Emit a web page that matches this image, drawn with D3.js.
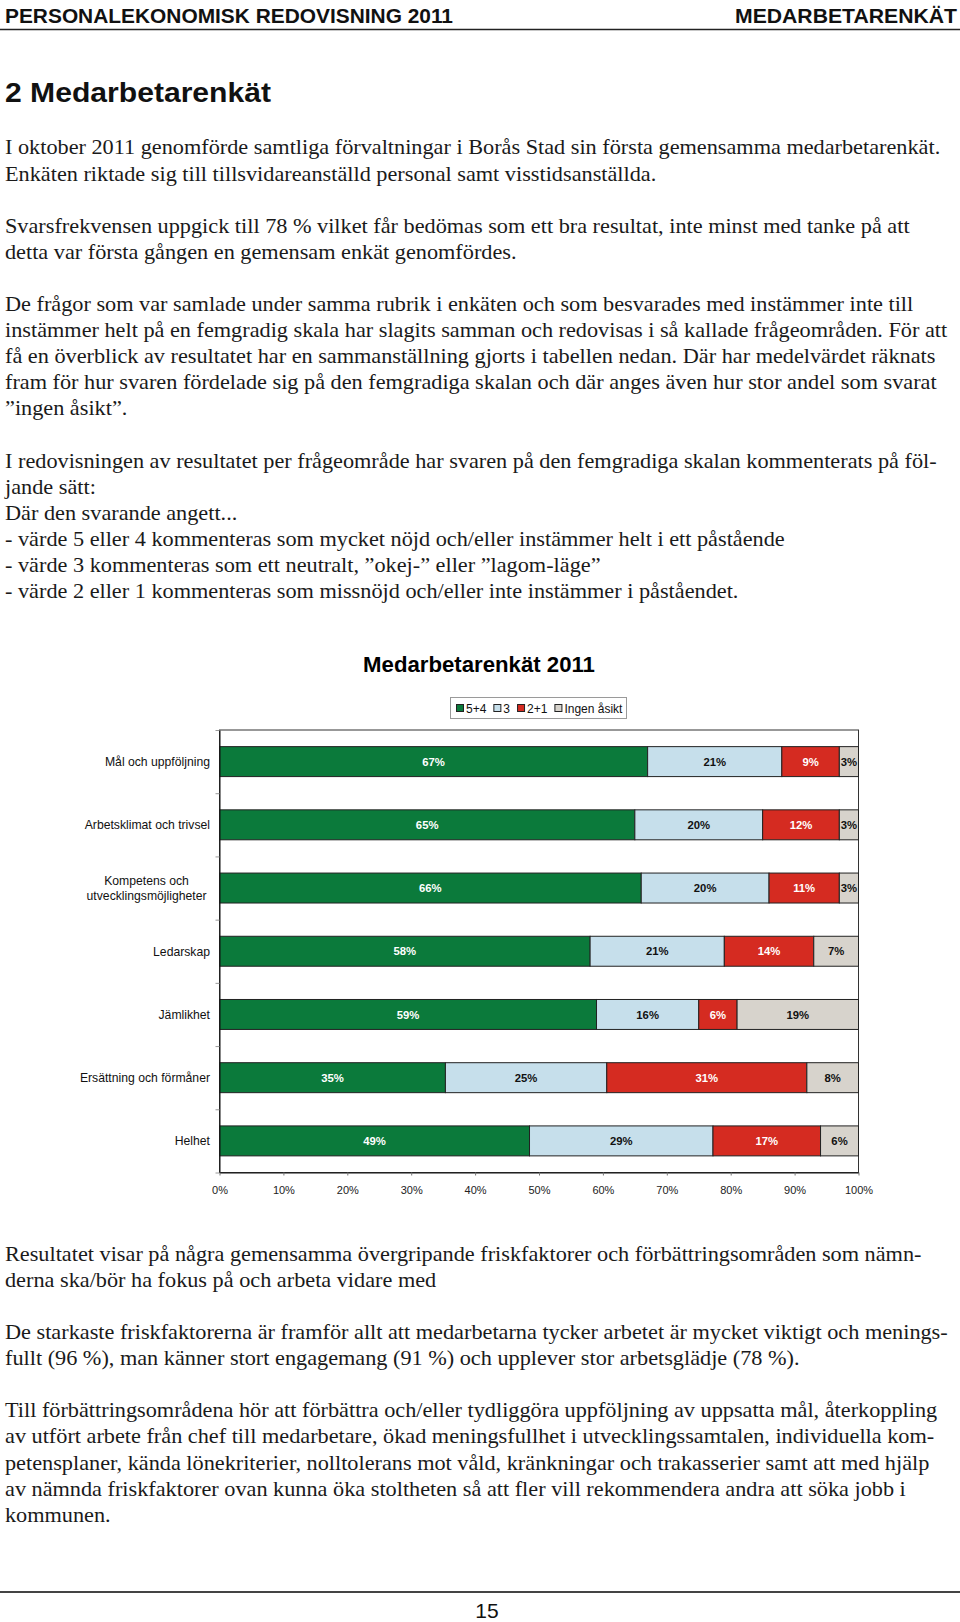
<!DOCTYPE html>
<html>
<head>
<meta charset="utf-8">
<script src="https://cdn.jsdelivr.net/npm/d3@7"></script>
<style>
  html, body { margin: 0; padding: 0; background: #fff; }
  svg { display: block; }
</style>
</head>
<body>
<svg id="page" width="960" height="1622"></svg>
<script>
// ---------------- DATA ----------------
const categories = [
  "Mål och uppföljning",
  "Arbetsklimat och trivsel",
  "Kompetens och\nutvecklingsmöjligheter",
  "Ledarskap",
  "Jämlikhet",
  "Ersättning och förmåner",
  "Helhet"
];
const seriesKeys = ["5+4", "3", "2+1", "Ingen åsikt"];
const values54   = [67, 65, 66, 58, 59, 35, 49];
const values3    = [21, 20, 20, 21, 16, 25, 29];
const values21   = [9, 12, 11, 14, 6, 31, 17];
const valuesNone = [3, 3, 3, 7, 19, 8, 6];
const xTicks = [0, 0.1, 0.2, 0.3, 0.4, 0.5, 0.6, 0.7, 0.8, 0.9, 1];

const chartTitle = "Medarbetarenkät 2011";
const headerLeft = "PERSONALEKONOMISK REDOVISNING 2011";
const headerRight = "MEDARBETARENKÄT";
const sectionTitle = "2  Medarbetarenkät";
const pageNumber = "15";

const introLines = [
  "I oktober 2011 genomförde samtliga förvaltningar i Borås Stad sin första gemensamma medarbetarenkät.",
  "Enkäten riktade sig till tillsvidareanställd personal samt visstidsanställda.",
  "",
  "Svarsfrekvensen uppgick till 78 % vilket får bedömas som ett bra resultat, inte minst med tanke på att",
  "detta var första gången en gemensam enkät genomfördes.",
  "",
  "De frågor som var samlade under samma rubrik i enkäten och som besvarades med instämmer inte till",
  "instämmer helt på en femgradig skala har slagits samman och redovisas i så kallade frågeområden. För att",
  "få en överblick av resultatet har en sammanställning gjorts i tabellen nedan. Där har medelvärdet räknats",
  "fram för hur svaren fördelade sig på den femgradiga skalan och där anges även hur stor andel som svarat",
  "\u201Dingen åsikt\u201D.",
  "",
  "I redovisningen av resultatet per frågeområde har svaren på den femgradiga skalan kommenterats på föl-",
  "jande sätt:",
  "Där den svarande angett...",
  "- värde 5 eller 4 kommenteras som mycket nöjd och/eller instämmer helt i ett påstående",
  "- värde 3 kommenteras som ett neutralt, \u201Dokej-\u201D eller \u201Dlagom-läge\u201D",
  "- värde 2 eller 1 kommenteras som missnöjd och/eller inte instämmer i påståendet."
];
const outroLines = [
  "Resultatet visar på några gemensamma övergripande friskfaktorer och förbättringsområden som nämn-",
  "derna ska/bör ha fokus på och arbeta vidare med",
  "",
  "De starkaste friskfaktorerna är framför allt att medarbetarna tycker arbetet är mycket viktigt och menings-",
  "fullt (96 %), man känner stort engagemang (91 %) och upplever stor arbetsglädje (78 %).",
  "",
  "Till förbättringsområdena hör att förbättra och/eller tydliggöra uppföljning av uppsatta mål, återkoppling",
  "av utfört arbete från chef till medarbetare, ökad meningsfullhet i utvecklingssamtalen, individuella kom-",
  "petensplaner, kända lönekriterier, nolltolerans mot våld, kränkningar och trakasserier samt att med hjälp",
  "av nämnda friskfaktorer ovan kunna öka stoltheten så att fler vill rekommendera andra att söka jobb i",
  "kommunen."
];

// ---------------- STYLE ----------------
const colors = {"5+4": "#0b7a3b", "3": "#c6dfeb", "2+1": "#d52b21", "Ingen åsikt": "#d7d3cc"};
const labelColors = {"5+4": "#ffffff", "3": "#111111", "2+1": "#ffffff", "Ingen åsikt": "#111111"};
const sans = "'Liberation Sans', Arial, Helvetica, sans-serif";
const serif = "'Liberation Serif', 'Times New Roman', serif";

const svg = d3.select("#page");
svg.append("rect").attr("width", 960).attr("height", 1622).attr("fill", "#fff");

// ---------------- HEADER ----------------
svg.append("text").attr("x", 5).attr("y", 23)
  .attr("font-family", "'Liberation Sans Narrow', " + sans).attr("font-weight", "bold")
  .attr("font-size", 20.5).attr("fill", "#111")
  .attr("textLength", 448).attr("lengthAdjust", "spacingAndGlyphs")
  .text(headerLeft);
svg.append("text").attr("x", 957).attr("y", 23).attr("text-anchor", "end")
  .attr("font-family", "'Liberation Sans Narrow', " + sans).attr("font-weight", "bold")
  .attr("font-size", 20.5).attr("fill", "#111")
  .attr("textLength", 222).attr("lengthAdjust", "spacingAndGlyphs")
  .text(headerRight);
svg.append("line").attr("x1", 0).attr("x2", 960).attr("y1", 29.5).attr("y2", 29.5)
  .attr("stroke", "#222").attr("stroke-width", 1.4);

svg.append("text").attr("x", 5).attr("y", 101.5)
  .attr("font-family", "'Liberation Sans Narrow', " + sans).attr("font-weight", "bold")
  .attr("font-size", 28).attr("fill", "#111")
  .attr("textLength", 266).attr("lengthAdjust", "spacingAndGlyphs")
  .text(sectionTitle);

// ---------------- BODY TEXT ----------------
function drawBlock(lines, y0, step) {
  const g = svg.append("g");
  const inner = g.append("g");
  inner.selectAll("text").data(lines).join("text")
    .attr("x", 0)
    .attr("y", (d, i) => y0 + i * step)
    .attr("font-family", serif).attr("font-size", 21).attr("fill", "#1a1a1a")
    .text(d => d);
  return inner;
}
const introBlock = drawBlock(introLines, 154.5, 26.1);
const outroBlock = drawBlock(outroLines, 1261, 26.07);
// fit horizontal proportion of serif face to the reference line width
const refW = introBlock.select("text").node().getComputedTextLength();
const sx = 936 / refW;
introBlock.attr("transform", `translate(5,0) scale(${sx},1)`);
outroBlock.attr("transform", `translate(5,0) scale(${sx},1)`);

// ---------------- CHART ----------------
svg.append("text").attr("x", 479).attr("y", 672).attr("text-anchor", "middle")
  .attr("font-family", sans).attr("font-weight", "bold").attr("font-size", 22.2)
  .attr("fill", "#000").text(chartTitle);

const rows = categories.map((c, i) => ({
  cat: c, "5+4": values54[i], "3": values3[i], "2+1": values21[i], "Ingen åsikt": valuesNone[i]
}));
const stacked = d3.stack().keys(seriesKeys).offset(d3.stackOffsetExpand)(rows);

const plot = {left: 219.5, right: 858.5, top: 730, bottom: 1172.5};
const x = d3.scaleLinear().domain([0, 1]).range([plot.left, plot.right]);
const y = d3.scaleBand().domain(categories).range([plot.top, plot.bottom])
  .paddingInner(0.526).paddingOuter(0.263);

// plot area border
svg.append("rect").attr("x", plot.left).attr("y", plot.top)
  .attr("width", plot.right - plot.left).attr("height", plot.bottom - plot.top)
  .attr("fill", "none").attr("stroke", "#333").attr("stroke-width", 1);

// segments
const segG = svg.append("g");
stacked.forEach(s => {
  segG.append("g").selectAll("rect").data(s).join("rect")
    .attr("x", d => x(d[0]))
    .attr("y", d => y(d.data.cat))
    .attr("width", d => x(d[1]) - x(d[0]))
    .attr("height", y.bandwidth())
    .attr("fill", colors[s.key])
    .attr("stroke", "#222").attr("stroke-width", 1);
});
// value labels
stacked.forEach(s => {
  segG.append("g").selectAll("text").data(s).join("text")
    .attr("x", d => (x(d[0]) + x(d[1])) / 2)
    .attr("y", d => y(d.data.cat) + y.bandwidth() / 2)
    .attr("dy", "0.36em")
    .attr("text-anchor", "middle")
    .attr("font-family", sans).attr("font-weight", "bold").attr("font-size", 11.3)
    .attr("fill", labelColors[s.key])
    .text(d => d.data[s.key] + "%");
});

// left axis ticks at category boundaries
const boundary = d3.scaleLinear().domain([0, categories.length]).range([plot.top, plot.bottom]);
const yAxis = svg.append("g").attr("transform", `translate(${plot.left},0)`)
  .call(d3.axisLeft(boundary).tickValues(d3.range(categories.length + 1)).tickFormat("").tickSize(4).tickSizeOuter(0));
yAxis.select(".domain").attr("stroke", "#111");
yAxis.selectAll(".tick line").attr("stroke", "#999");

// category labels
const catG = svg.append("g");
categories.forEach(c => {
  const lines = c.split("\n");
  const cy = y(c) + y.bandwidth() / 2;
  const lh = 15.5;
  const t = catG.append("text")
    .attr("font-family", sans).attr("font-size", 12.2).attr("fill", "#111");
  lines.forEach((ln, i) => {
    t.append("tspan").attr("y", cy + (i - (lines.length - 1) / 2) * lh).attr("dy", "0.35em").text(ln);
  });
  if (lines.length === 1) {
    t.attr("text-anchor", "end").selectAll("tspan").attr("x", 210);
  } else {
    let maxW = 0;
    t.selectAll("tspan").each(function() { maxW = Math.max(maxW, this.getComputedTextLength()); });
    t.attr("text-anchor", "middle").selectAll("tspan").attr("x", 206.5 - maxW / 2);
  }
});

// bottom axis
const xAxis = svg.append("g").attr("transform", `translate(0,${plot.bottom})`)
  .call(d3.axisBottom(x).tickValues(xTicks).tickFormat(d3.format(".0%")).tickSize(3).tickPadding(11).tickSizeOuter(0));
xAxis.select(".domain").attr("stroke", "#111");
xAxis.selectAll(".tick line").attr("stroke", "#777");
xAxis.selectAll("text").attr("font-family", sans).attr("font-size", 11).attr("fill", "#222");

// legend
const legend = svg.append("g");
legend.append("rect").attr("x", 450.5).attr("y", 697.5).attr("width", 176).attr("height", 21)
  .attr("fill", "#fff").attr("stroke", "#9a9a9a").attr("stroke-width", 1);
let cur = 456;
seriesKeys.forEach(k => {
  legend.append("rect").attr("x", cur + 0.5).attr("y", 704.5).attr("width", 7).attr("height", 7)
    .attr("fill", colors[k]).attr("stroke", "#222").attr("stroke-width", 1);
  const t = legend.append("text").attr("x", cur + 10).attr("y", 712.5)
    .attr("font-family", sans).attr("font-size", 12).attr("fill", "#111").text(k);
  cur = cur + 10 + t.node().getComputedTextLength() + 7;
});

// ---------------- FOOTER ----------------
svg.append("line").attr("x1", 0).attr("x2", 960).attr("y1", 1592).attr("y2", 1592)
  .attr("stroke", "#444").attr("stroke-width", 2);
svg.append("text").attr("x", 487).attr("y", 1618).attr("text-anchor", "middle")
  .attr("font-family", "'Liberation Sans Narrow', " + sans).attr("font-size", 21).attr("fill", "#111")
  .text(pageNumber);
</script>
</body>
</html>
